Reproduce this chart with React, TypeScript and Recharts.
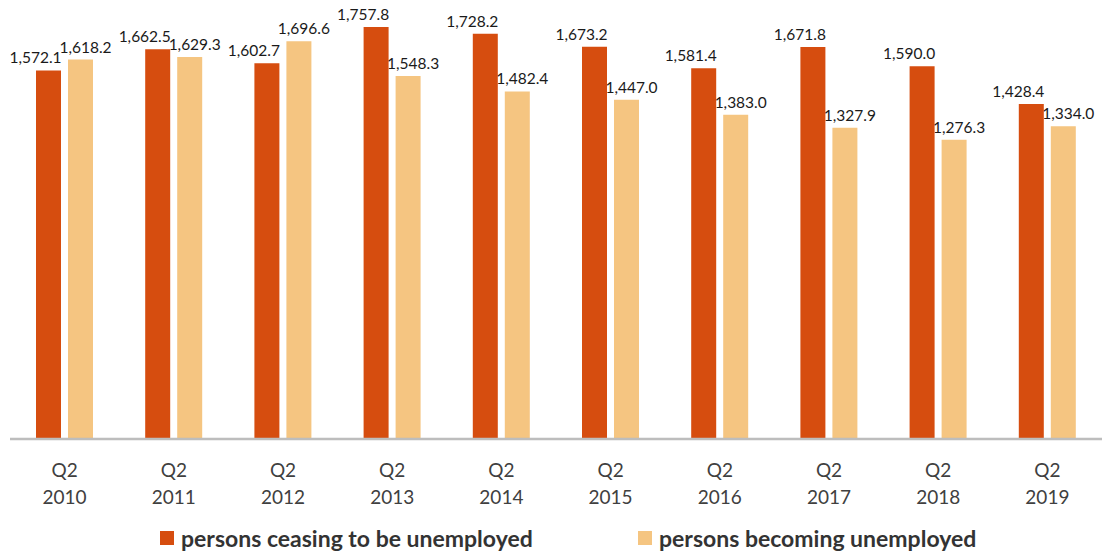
import React from 'react';
import { BarChart, Bar, XAxis, YAxis, Legend, LabelList } from 'recharts';

const quarters = ['Q2', 'Q2', 'Q2', 'Q2', 'Q2', 'Q2', 'Q2', 'Q2', 'Q2', 'Q2'];
const years = ['2010', '2011', '2012', '2013', '2014', '2015', '2016', '2017', '2018', '2019'];
const ceasing = [1572.1, 1662.5, 1602.7, 1757.8, 1728.2, 1673.2, 1581.4, 1671.8, 1590.0, 1428.4];
const becoming = [1618.2, 1629.3, 1696.6, 1548.3, 1482.4, 1447.0, 1383.0, 1327.9, 1276.3, 1334.0];
const seriesNames = ['persons ceasing to be unemployed', 'persons becoming unemployed'];

const data = years.map((y, i) => ({
  name: `${quarters[i]} ${y}`,
  q: quarters[i],
  year: y,
  ceasing: ceasing[i],
  becoming: becoming[i],
}));

const ORANGE = '#D64D0F';
const LIGHT = '#F5C581';
const FONT = 'Lato, "Open Sans", sans-serif';

const fmt = (v: number) =>
  v.toLocaleString('en-US', { minimumFractionDigits: 1, maximumFractionDigits: 1 });

const makeLabel = (dx: number) => (props: any) => {
  const { x, y, width, value } = props;
  return (
    <text
      x={Number(x) + Number(width) / 2 + dx}
      y={Number(y) - 7}
      textAnchor="middle"
      fontFamily={FONT}
      fontSize={15.5}
      fill="#1a1a1a"
    >
      {fmt(Number(value))}
    </text>
  );
};

const Tick = (props: any) => {
  const { x, y, index } = props;
  return (
    <text x={x} y={y} textAnchor="middle" fontFamily={FONT} fontSize={19} fill="#404040">
      <tspan x={x} dy={30}>{quarters[index]}</tspan>
      <tspan x={x} dy={27}>{years[index]}</tspan>
    </text>
  );
};

const LegendContent = () => (
  <div
    style={{
      height: 30,
      display: 'flex',
      alignItems: 'center',
      justifyContent: 'flex-start',
      fontFamily: FONT,
      fontWeight: 700,
      fontSize: 23,
      color: '#333333',
    }}
  >
    {[ORANGE, LIGHT].map((c, i) => (
      <div
        key={i}
        style={{
          display: 'flex',
          alignItems: 'center',
          position: 'absolute',
          left: i === 0 ? 160 : 638,
        }}
      >
        <span style={{ width: 14, height: 14, background: c, display: 'inline-block', marginRight: 7 }} />
        <span>{seriesNames[i]}</span>
      </div>
    ))}
  </div>
);

export default function App() {
  return (
    <div style={{ position: 'absolute', left: 0, top: 0, background: '#fff' }}>
      <BarChart
        width={1107}
        height={553}
        data={data}
        margin={{ top: 17, right: 5, left: 10, bottom: 0 }}
        barSize={25}
        barGap={7}
      >
        <YAxis hide domain={[0, 1800]} />
        <XAxis
          dataKey="name"
          axisLine={{ stroke: '#BDBDBD', strokeWidth: 2.5 }}
          tickLine={false}
          tick={<Tick />}
          interval={0}
          height={84}
        />
        <Legend verticalAlign="bottom" content={<LegendContent />} wrapperStyle={{ left: 0, width: 1107 }} />
        <Bar dataKey="ceasing" name={seriesNames[0]} fill={ORANGE} isAnimationActive={false}>
          <LabelList dataKey="ceasing" content={makeLabel(-13)} />
        </Bar>
        <Bar dataKey="becoming" name={seriesNames[1]} fill={LIGHT} isAnimationActive={false}>
          <LabelList dataKey="becoming" content={makeLabel(5)} />
        </Bar>
      </BarChart>
    </div>
  );
}
